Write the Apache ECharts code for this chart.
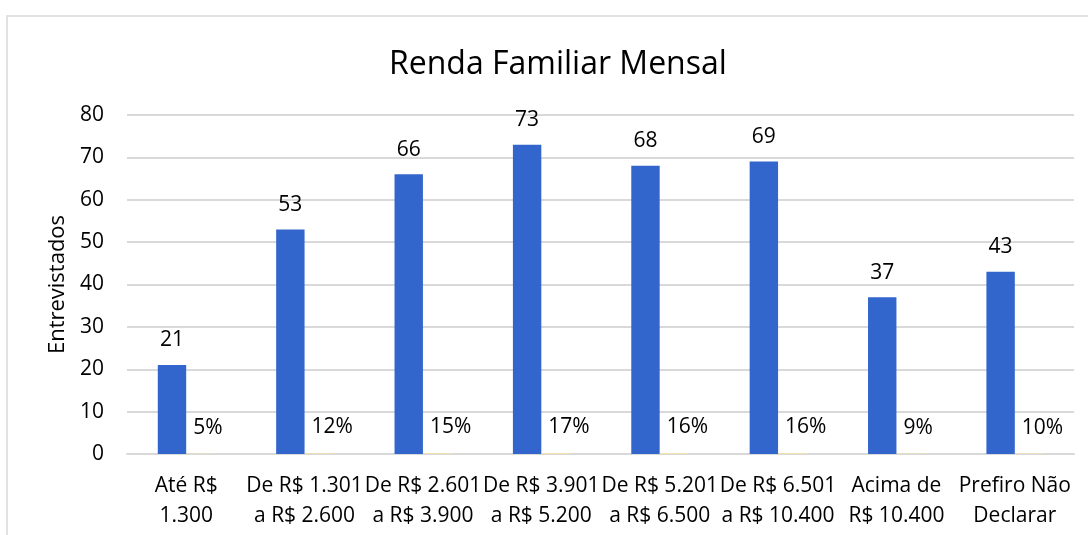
<!DOCTYPE html>
<html>
<head>
<meta charset="utf-8">
<script src="https://cdn.jsdelivr.net/npm/echarts@6/dist/echarts.min.js"></script>
<style>
  html, body { margin: 0; padding: 0; background: #fff; }
  #main { width: 1088px; height: 535px; }
</style>
</head>
<body>
<div id="main"></div>
<script>
// faixas de renda
var categories = [
  'Até R$\n1.300',
  'De R$ 1.301\na R$ 2.600',
  'De R$ 2.601\na R$ 3.900',
  'De R$ 3.901\na R$ 5.200',
  'De R$ 5.201\na R$ 6.500',
  'De R$ 6.501\na R$ 10.400',
  'Acima de\nR$ 10.400',
  'Prefiro Não\nDeclarar'
]
var entrevistados = [21, 53, 66, 73, 68, 69, 37, 43]
var percentuais = [0.05, 0.12, 0.15, 0.17, 0.16, 0.16, 0.09, 0.10]
var yTicks = { min: 0, max: 80, interval: 10 }

var FONT = 'Open Sans'
var chart = echarts.init(document.getElementById('main'))

var option = {
  animation: false,
  textStyle: { fontFamily: FONT },
  title: {
    text: 'Renda Familiar Mensal',
    left: 384,
    top: 44,
    textStyle: { fontFamily: FONT, fontSize: 32, fontWeight: 'normal', color: '#000' }
  },
  graphic: [
    {
      type: 'polyline',
      shape: { points: [[7, 535], [7, 16], [1088, 16]] },
      style: { stroke: '#d9d9d9', lineWidth: 1.5, fill: null },
      silent: true
    }
  ],
  grid: { left: 127, right: 14, top: 115, bottom: 81 },
  xAxis: {
    type: 'category',
    data: categories,
    axisTick: { show: false },
    axisLine: { lineStyle: { color: '#d9d9d9', width: 2 } },
    axisLabel: {
      color: '#000',
      fontSize: 21,
      lineHeight: 30,
      margin: 17,
      interval: 0
    }
  },
  yAxis: {
    type: 'value',
    min: yTicks.min,
    max: yTicks.max,
    interval: yTicks.interval,
    name: 'Entrevistados',
    nameLocation: 'middle',
    nameGap: 58,
    nameTextStyle: { color: '#000', fontSize: 22 },
    axisLine: { show: false },
    axisTick: { show: false },
    axisLabel: { color: '#000', fontSize: 21, margin: 23 },
    splitLine: { lineStyle: { color: '#d9d9d9', width: 2 } }
  },
  series: [
    {
      name: 'Entrevistados',
      type: 'bar',
      data: entrevistados,
      barGap: '0%',
      barCategoryGap: '52%',
      itemStyle: { color: '#3366cc' },
      label: {
        show: true,
        position: 'top',
        distance: 14,
        color: '#000',
        fontSize: 21
      }
    },
    {
      name: 'Percentual',
      type: 'bar',
      data: percentuais,
      itemStyle: { color: '#ffe699' },
      label: {
        show: true,
        position: [7, -26],
        align: 'left',
        verticalAlign: 'middle',
        color: '#000',
        fontSize: 21,
        formatter: function (p) {
          return Math.round(p.value * 100) + '%'
        }
      }
    }
  ]
}
chart.setOption(option)
</script>
</body>
</html>
